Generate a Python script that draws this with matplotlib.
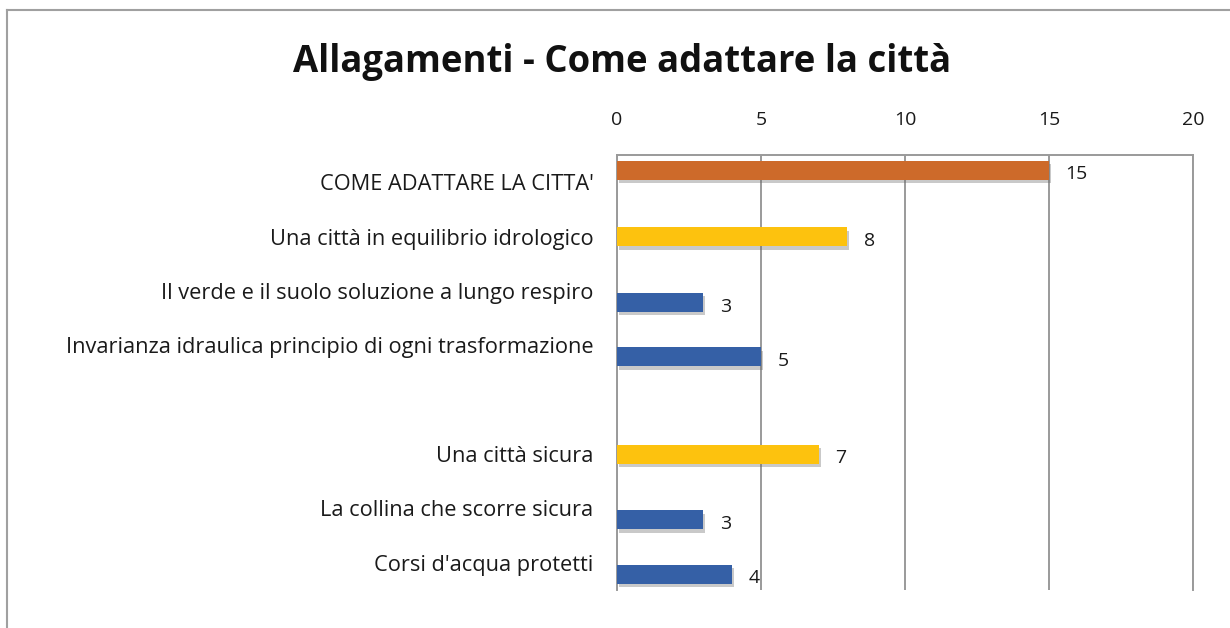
import numpy as np
import matplotlib
matplotlib.use("Agg")
import matplotlib.pyplot as plt
import matplotlib.patheffects as pe
from matplotlib.lines import Line2D

plt.rcParams['font.family'] = ['Open Sans', 'DejaVu Sans']

title = "Allagamenti - Come adattare la città"
categories = [
    "COME ADATTARE LA CITTA'",
    "Una città in equilibrio idrologico",
    "Il verde e il suolo soluzione a lungo respiro",
    "Invarianza idraulica principio di ogni trasformazione",
    "",
    "Una città sicura",
    "La collina che scorre sicura",
    "Corsi d'acqua protetti",
]
series_orange = [15, None, None, None, None, None, None, None]
series_yellow = [None, 8, None, None, None, 7, None, None]
series_blue = [None, None, 3, 5, None, None, 3, 4]
xticks = [0, 5, 10, 15, 20]

colors = ["#CD6A2A", "#FDC20E", "#3560A6"]
offsets = [-0.22, 0.0, 0.21]
bar_h = 0.35

fig = plt.figure(figsize=(12.3, 6.28), dpi=100)
ax = fig.add_axes([617/1230, 1-590/628, (1193-617)/1230, (590-155)/628])

y = np.arange(len(categories))
shadow = [pe.SimplePatchShadow(offset=(1.5, -2.5), shadow_rgbFace='#666666', alpha=0.35),
          pe.Normal()]
for vals, col, off in zip([series_orange, series_yellow, series_blue], colors, offsets):
    for i, v in enumerate(vals):
        if v is None:
            continue
        b = ax.barh(y[i] + off, v, height=bar_h, color=col, zorder=3)
        for p in b.patches:
            p.set_path_effects(shadow)
        ax.annotate(str(v), xy=(v, y[i] + off), xytext=(12, -3), textcoords='offset points',
                    va='center', ha='left', fontsize=14, color='#1a1a1a', zorder=4)

ax.set_xlim(0, 20)
ax.set_ylim(len(categories) - 0.5, -0.5)
ax.set_xticks(xticks)
ax.xaxis.tick_top()
ax.tick_params(axis='x', length=0, pad=19, labelsize=14, labelcolor='#1a1a1a')
ax.set_yticks(y)
ax.set_yticklabels(categories)
ax.tick_params(axis='y', length=0, pad=17, labelsize=15.7, labelcolor='#1a1a1a')
ax.grid(axis='x', color='#9a9a9a', linewidth=1.4, zorder=0)
ax.set_axisbelow(True)
ax.spines['bottom'].set_visible(False)
for s in ['top', 'right', 'left']:
    ax.spines[s].set_color('#9a9a9a')
    ax.spines[s].set_linewidth(1.4)

fig.text(622/1230, 1-62/628, title, ha='center', va='center', fontsize=26.3,
         fontweight='bold', color='#111111')

# outer chart frame (top and left visible)
fig.add_artist(Line2D([7/1230, 1], [1-10/628, 1-10/628], transform=fig.transFigure,
                      color='#a0a0a0', linewidth=1.5))
fig.add_artist(Line2D([7/1230, 7/1230], [0, 1-10/628], transform=fig.transFigure,
                      color='#a0a0a0', linewidth=1.5))

fig.savefig("out.png", dpi=100)
